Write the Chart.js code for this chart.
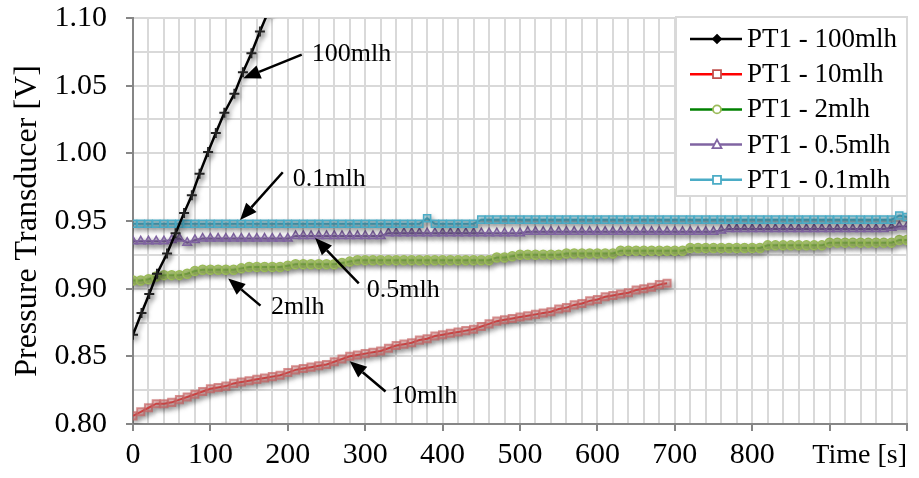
<!DOCTYPE html>
<html>
<head>
<meta charset="utf-8">
<script src="https://cdn.jsdelivr.net/npm/chart.js@4.4.1/dist/chart.umd.min.js"></script>
<style>
  html, body { margin: 0; padding: 0; background: #fff; }
</style>
</head>
<body>
<canvas id="myChart" width="919" height="478"></canvas>
<script>
const serif = '"Liberation Serif", "Times New Roman", serif';

// time axis [s]
const time100 = [0, 11, 21, 31, 44, 55, 66, 76, 86, 97, 107, 118, 131, 142, 153, 164, 175];
const time10 = [0, 10, 20, 30, 40, 50, 60, 70, 80, 90, 100, 110, 120, 130, 140, 150, 160, 170, 180, 190,
  200, 210, 220, 230, 240, 250, 260, 270, 280, 290, 300, 310, 320, 330, 340, 350, 360, 370, 380, 390,
  400, 410, 420, 430, 440, 450, 460, 470, 480, 490, 500, 510, 520, 530, 540, 550, 560, 570, 580, 590,
  600, 610, 620, 630, 640, 650, 660, 670, 680, 690];
const timeLong = [0, 10, 20, 30, 40, 50, 60, 70, 80, 90, 100, 110, 120, 130, 140, 150, 160, 170, 180, 190,
  200, 210, 220, 230, 240, 250, 260, 270, 280, 290, 300, 310, 320, 330, 340, 350, 360, 370, 380, 390,
  400, 410, 420, 430, 440, 450, 460, 470, 480, 490, 500, 510, 520, 530, 540, 550, 560, 570, 580, 590,
  600, 610, 620, 630, 640, 650, 660, 670, 680, 690, 700, 710, 720, 730, 740, 750, 760, 770, 780, 790,
  800, 810, 820, 830, 840, 850, 860, 870, 880, 890, 900, 910, 920, 930, 940, 950, 960, 970, 980, 990, 1000];

// PT1 voltages [V]
const pt100 = [0.866, 0.882, 0.896, 0.911, 0.926, 0.941, 0.956, 0.969, 0.985, 1.001, 1.015, 1.030, 1.044, 1.060, 1.074, 1.090, 1.105];
const pt10 = [0.806, 0.809, 0.812, 0.815, 0.815, 0.816, 0.818, 0.820, 0.822, 0.824,
  0.826, 0.827, 0.828, 0.830, 0.831, 0.832, 0.833, 0.834, 0.835, 0.836,
  0.838, 0.840, 0.841, 0.842, 0.843, 0.844, 0.846, 0.848, 0.850, 0.851,
  0.852, 0.853, 0.854, 0.856, 0.858, 0.859, 0.860, 0.862, 0.863, 0.865,
  0.866, 0.867, 0.868, 0.869, 0.870, 0.872, 0.874, 0.876, 0.877, 0.878,
  0.879, 0.880, 0.881, 0.882, 0.883, 0.885, 0.886, 0.888, 0.889, 0.891,
  0.892, 0.894, 0.895, 0.896, 0.897, 0.899, 0.900, 0.901, 0.903, 0.904];
const pt2 = [0.906, 0.906, 0.907, 0.909, 0.910, 0.910, 0.910, 0.911, 0.913, 0.914,
  0.914, 0.914, 0.914, 0.914, 0.915, 0.916, 0.916, 0.916, 0.916, 0.916,
  0.917, 0.918, 0.918, 0.918, 0.918, 0.918, 0.918, 0.919, 0.920, 0.921,
  0.921, 0.921, 0.921, 0.921, 0.921, 0.921, 0.921, 0.921, 0.921, 0.921,
  0.921, 0.921, 0.921, 0.921, 0.921, 0.921, 0.921, 0.923, 0.923, 0.924,
  0.925, 0.925, 0.925, 0.925, 0.925, 0.925, 0.926, 0.926, 0.926, 0.926,
  0.926, 0.926, 0.926, 0.928, 0.928, 0.928, 0.928, 0.928, 0.928, 0.928,
  0.928, 0.928, 0.930, 0.930, 0.930, 0.930, 0.930, 0.930, 0.930, 0.930,
  0.930, 0.930, 0.932, 0.932, 0.932, 0.932, 0.932, 0.932, 0.932, 0.932,
  0.934, 0.934, 0.934, 0.934, 0.934, 0.934, 0.934, 0.934, 0.934, 0.936, 0.936];
const pt05 = [0.935, 0.935, 0.935, 0.935, 0.935, 0.936, 0.937, 0.934, 0.936, 0.937,
  0.937, 0.937, 0.937, 0.937, 0.937, 0.937, 0.937, 0.937, 0.937, 0.937,
  0.937, 0.939, 0.939, 0.939, 0.939, 0.939, 0.939, 0.939, 0.939, 0.939,
  0.939, 0.939, 0.939, 0.941, 0.941, 0.941, 0.941, 0.941, 0.941, 0.941,
  0.941, 0.941, 0.941, 0.941, 0.941, 0.941, 0.941, 0.941, 0.941, 0.941,
  0.941, 0.942, 0.942, 0.942, 0.942, 0.942, 0.942, 0.942, 0.942, 0.942,
  0.942, 0.942, 0.942, 0.942, 0.942, 0.942, 0.942, 0.942, 0.942, 0.942,
  0.942, 0.942, 0.942, 0.942, 0.942, 0.942, 0.943, 0.944, 0.944, 0.944,
  0.944, 0.944, 0.944, 0.944, 0.944, 0.944, 0.944, 0.944, 0.944, 0.944,
  0.944, 0.944, 0.944, 0.944, 0.944, 0.944, 0.944, 0.944, 0.945, 0.946, 0.946];
const pt01 = [0.948, 0.948, 0.948, 0.948, 0.948, 0.948, 0.948, 0.948, 0.948, 0.948,
  0.948, 0.948, 0.948, 0.948, 0.948, 0.948, 0.948, 0.948, 0.948, 0.948,
  0.948, 0.948, 0.948, 0.948, 0.948, 0.948, 0.948, 0.948, 0.948, 0.948,
  0.948, 0.948, 0.948, 0.948, 0.948, 0.948, 0.948, 0.948, 0.952, 0.948,
  0.948, 0.948, 0.948, 0.948, 0.948, 0.951, 0.951, 0.951, 0.951, 0.951,
  0.951, 0.951, 0.951, 0.951, 0.951, 0.951, 0.951, 0.951, 0.951, 0.951,
  0.951, 0.951, 0.951, 0.951, 0.951, 0.951, 0.951, 0.951, 0.951, 0.951,
  0.951, 0.951, 0.951, 0.951, 0.951, 0.951, 0.951, 0.951, 0.951, 0.951,
  0.951, 0.951, 0.951, 0.951, 0.951, 0.951, 0.951, 0.951, 0.951, 0.951,
  0.951, 0.951, 0.951, 0.951, 0.951, 0.951, 0.951, 0.951, 0.951, 0.954, 0.953];

const seriesNames = ["PT1 - 100mlh", "PT1 - 10mlh", "PT1 - 2mlh", "PT1 - 0.5mlh", "PT1 - 0.1mlh"];

// arrow callouts, in data units (time, volts)
const calloutText = ["100mlh", "0.1mlh", "2mlh", "0.5mlh", "10mlh"];
const calloutTail = [[218, 1.073], [193.5, 0.986], [164.7, 0.8875], [291.7, 0.9039], [326.3, 0.824]];
const calloutTip = [[142.6, 1.0554], [138.3, 0.9507], [123, 0.9076], [235.3, 0.9374], [280, 0.8464]];
const calloutLabel = [[231, 1.0682], [206.5, 0.9761], [178.4, 0.8812], [302, 0.8938], [333.2, 0.8152]];

const pairs = (xs, ys) => xs.map((x, i) => ({ x: x, y: ys[i] }));

const markerShadow = {
  id: "markerShadow",
  beforeDatasetsDraw(chart) {
    const c = chart.ctx;
    c.save();
    c.shadowColor = "rgba(0,0,0,0.4)";
    c.shadowBlur = 5;
    c.shadowOffsetX = 2;
    c.shadowOffsetY = 3;
  },
  afterDatasetsDraw(chart) {
    chart.ctx.restore();
  },
};

const callouts = {
  id: "callouts",
  afterDraw(chart) {
    const c = chart.ctx;
    const xs = chart.scales.x;
    const ys = chart.scales.y;
    c.save();
    c.strokeStyle = "#000";
    c.fillStyle = "#000";
    c.lineWidth = 2.5;
    calloutText.forEach((txt, i) => {
      const x1 = xs.getPixelForValue(calloutTail[i][0]);
      const y1 = ys.getPixelForValue(calloutTail[i][1]);
      const x2 = xs.getPixelForValue(calloutTip[i][0]);
      const y2 = ys.getPixelForValue(calloutTip[i][1]);
      const a = Math.atan2(y2 - y1, x2 - x1);
      const len = 17, half = 7;
      const bx = x2 - len * Math.cos(a), by = y2 - len * Math.sin(a);
      c.beginPath();
      c.moveTo(x1, y1);
      c.lineTo(bx, by);
      c.stroke();
      c.beginPath();
      c.moveTo(x2, y2);
      c.lineTo(bx + half * Math.sin(a), by - half * Math.cos(a));
      c.lineTo(bx - half * Math.sin(a), by + half * Math.cos(a));
      c.closePath();
      c.fill();
      c.font = "26px " + serif;
      c.textBaseline = "alphabetic";
      c.textAlign = "left";
      c.fillText(txt, xs.getPixelForValue(calloutLabel[i][0]), ys.getPixelForValue(calloutLabel[i][1]));
    });
    c.restore();
  },
};

const legendLook = [
  { line: "#000000", mark: "diamond", stroke: "#000000", fill: "#000000" },
  { line: "#ff0000", mark: "square", stroke: "#c0504d", fill: "#ffffff" },
  { line: "#008000", mark: "circle", stroke: "#9bbb59", fill: "#ffffff" },
  { line: "#8064a2", mark: "triangle", stroke: "#8064a2", fill: "#ffffff" },
  { line: "#4bacc6", mark: "square", stroke: "#4bacc6", fill: "#ffffff" },
];

const boxLegend = {
  id: "boxLegend",
  afterDraw(chart) {
    const c = chart.ctx;
    const area = chart.chartArea;
    const w = 231, h = 179;
    const left = area.right - w, top = area.top - 1;
    c.save();
    c.fillStyle = "#fff";
    c.fillRect(left, top, w, h);
    c.strokeStyle = "#d9d9d9";
    c.lineWidth = 2;
    c.strokeRect(left, top, w, h);
    c.font = "27px " + serif;
    c.textBaseline = "middle";
    c.textAlign = "left";
    seriesNames.forEach((name, i) => {
      const y = top + 22 + i * 35.2;
      const look = legendLook[i];
      c.strokeStyle = look.line;
      c.lineWidth = 2.5;
      c.beginPath();
      c.moveTo(left + 14, y);
      c.lineTo(left + 66, y);
      c.stroke();
      const mx = left + 41;
      c.lineWidth = 1.8;
      c.strokeStyle = look.stroke;
      c.fillStyle = look.fill;
      c.beginPath();
      if (look.mark === "diamond") {
        c.moveTo(mx, y - 4); c.lineTo(mx + 4, y); c.lineTo(mx, y + 4); c.lineTo(mx - 4, y); c.closePath();
      } else if (look.mark === "square") {
        c.rect(mx - 4, y - 4, 8, 8);
      } else if (look.mark === "circle") {
        c.arc(mx, y, 4, 0, Math.PI * 2);
      } else {
        c.moveTo(mx, y - 5); c.lineTo(mx + 4.5, y + 3.5); c.lineTo(mx - 4.5, y + 3.5); c.closePath();
      }
      c.fill();
      c.stroke();
      c.fillStyle = "#000";
      c.fillText(name, left + 71, y + 1);
    });
    c.restore();
  },
};

const ctx = document.getElementById("myChart").getContext("2d");

const myChart = new Chart(ctx, {
  type: "line",
  data: {
    datasets: [
      {
        label: seriesNames[0],
        data: pairs(time100, pt100),
        borderColor: "#000",
        borderWidth: 2.5,
        pointStyle: "cross",
        pointRadius: 5,
        pointBorderWidth: 2,
        pointBorderColor: "#222",
        order: 0,
      },
      {
        label: seriesNames[1],
        data: pairs(time10, pt10),
        borderColor: "#ff0000",
        borderWidth: 2,
        pointStyle: "rect",
        pointRadius: 5,
        pointBorderWidth: 2,
        pointBorderColor: "rgba(200,100,100,0.7)",
        pointBackgroundColor: "rgba(225,150,150,0.5)",
        order: 4,
      },
      {
        label: seriesNames[2],
        data: pairs(timeLong, pt2),
        borderColor: "#008000",
        borderWidth: 2,
        pointStyle: "circle",
        pointRadius: 4.5,
        pointBorderWidth: 1.5,
        pointBorderColor: "#9bbb59",
        pointBackgroundColor: "rgba(155,187,89,0.8)",
        order: 3,
      },
      {
        label: seriesNames[3],
        data: pairs(timeLong, pt05),
        borderColor: "#8064a2",
        borderWidth: 2,
        pointStyle: "triangle",
        pointRadius: 5,
        pointBorderWidth: 1.5,
        pointBorderColor: "#8064a2",
        pointBackgroundColor: "rgba(128,100,162,0.4)",
        order: 2,
      },
      {
        label: seriesNames[4],
        data: pairs(timeLong, pt01),
        borderColor: "#4bacc6",
        borderWidth: 2,
        pointStyle: "rect",
        pointRadius: 5,
        pointBorderWidth: 1.5,
        pointBorderColor: "#4bacc6",
        pointBackgroundColor: "rgba(75,172,198,0.4)",
        order: 1,
      },
    ],
  },
  options: {
    responsive: false,
    animation: false,
    layout: { padding: { top: 18, right: 12, left: 0, bottom: 0 } },
    plugins: {
      legend: { display: false },
      tooltip: { enabled: false },
    },
    scales: {
      x: {
        type: "linear",
        min: 0,
        max: 1000,
        afterFit: (scale) => {
          scale.height = 54;
          scale.paddingLeft = 0;
          scale.paddingRight = 0;
        },
        border: { color: "#868686", width: 2 },
        grid: {
          color: "#d9d9d9",
          lineWidth: 2,
          tickLength: 7,
          tickWidth: 2,
          tickColor: (c) => (c.tick && c.tick.value % 100 === 0 ? "#868686" : "rgba(0,0,0,0)"),
        },
        ticks: {
          stepSize: 20,
          autoSkip: false,
          maxRotation: 0,
          padding: 6,
          color: "#000",
          font: { family: serif, size: 30 },
          callback: (v) => (v % 100 === 0 && v <= 800 ? String(v) : ""),
        },
        title: {
          display: true,
          text: "Time [s]",
          align: "end",
          color: "#000",
          font: { family: serif, size: 28 },
          padding: { top: 6, bottom: 6 },
        },
      },
      y: {
        type: "linear",
        min: 0.8,
        max: 1.1,
        afterFit: (scale) => {
          scale.width = 133;
          scale.paddingTop = 0;
          scale.paddingBottom = 0;
        },
        border: { color: "#868686", width: 2 },
        grid: {
          color: "#d9d9d9",
          lineWidth: 2,
          tickLength: 7,
          tickWidth: 2,
          tickColor: (c) => (c.tick && Math.round(c.tick.value * 1000) % 50 === 0 ? "#868686" : "rgba(0,0,0,0)"),
        },
        ticks: {
          stepSize: 0.025,
          autoSkip: false,
          padding: 19,
          color: "#000",
          font: { family: serif, size: 30 },
          callback: (v) => (Math.round(v * 1000) % 50 === 0 ? v.toFixed(2) : ""),
        },
        title: {
          display: true,
          text: "Pressure Transducer [V]",
          color: "#000",
          font: { family: serif, size: 32 },
          padding: { top: 8, bottom: 8 },
        },
      },
    },
  },
  plugins: [markerShadow, callouts, boxLegend],
});
</script>
</body>
</html>
